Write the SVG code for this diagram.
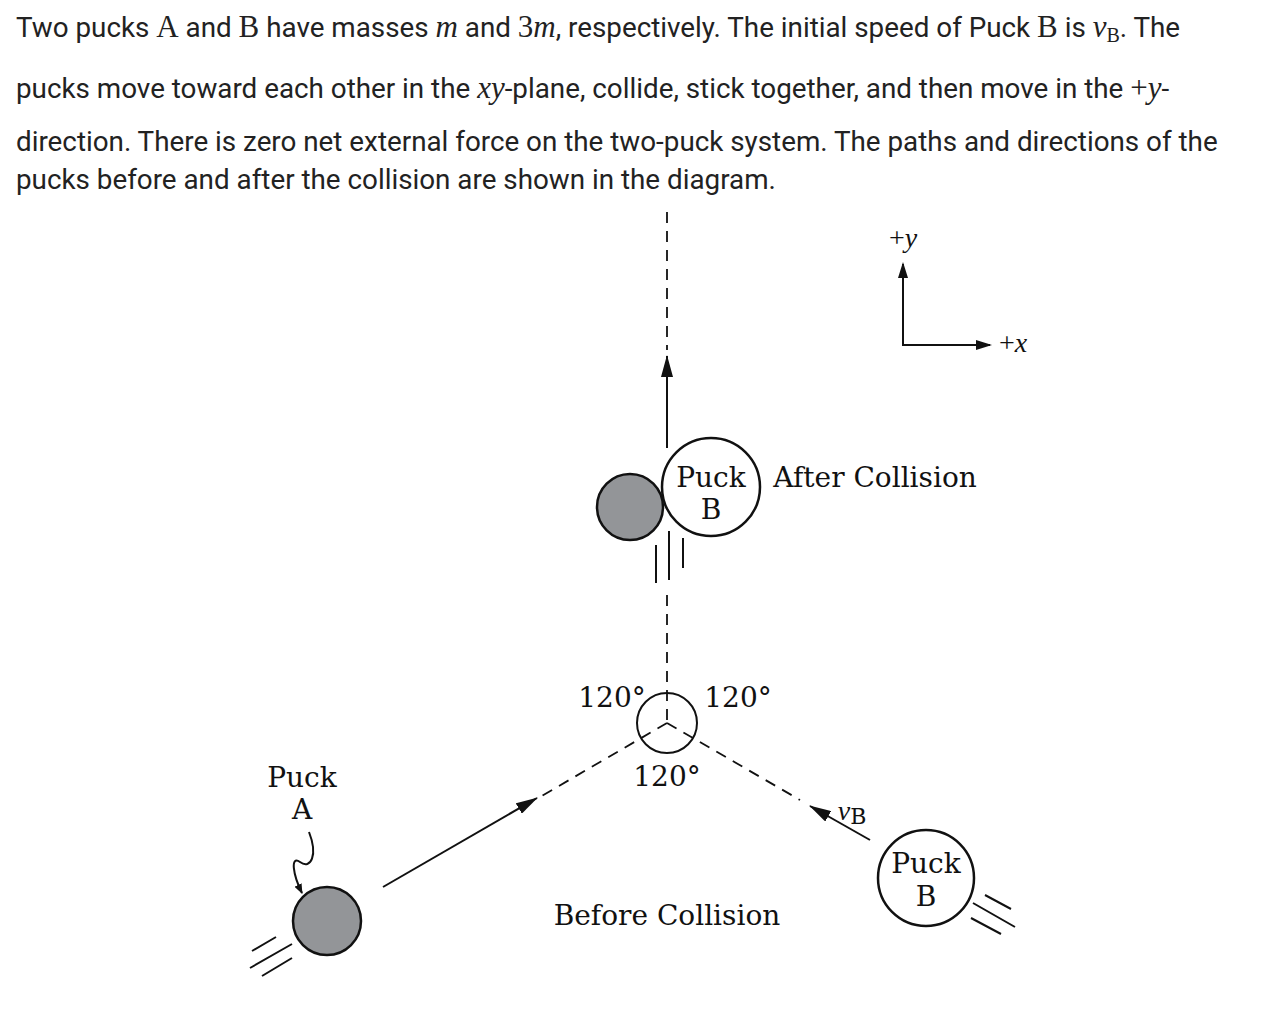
<svg xmlns="http://www.w3.org/2000/svg" width="1268" height="1012" viewBox="0 0 1268 1012">
<style>
.h{font-family:Roboto,"Liberation Sans",sans-serif;font-size:27.8px;fill:#222}
.m{font-family:"Liberation Serif",serif;font-style:italic}
.hm{font-size:31px}
.r{font-family:"Liberation Serif",serif;font-style:normal}
.t{font-family:"DejaVu Serif","Liberation Serif",serif;font-size:28px;fill:#111;text-anchor:middle}
.s{stroke:#111;stroke-width:2;fill:none}
.d{stroke:#111;stroke-width:1.8;fill:none;stroke-dasharray:11,8}
.g{fill:#939598;stroke:#111;stroke-width:2.5}
.w{fill:#fff;stroke:#111;stroke-width:2.5}
</style>
<defs><marker id="a" markerWidth="10" markerHeight="8" refX="9" refY="4" orient="auto" markerUnits="userSpaceOnUse" viewBox="0 0 10 8"><path d="M0,0L10,4L0,8z" fill="#111"/></marker>
<marker id="b" markerWidth="22" markerHeight="12" refX="21" refY="6" orient="auto" markerUnits="userSpaceOnUse"><path d="M0,0L22,6L0,12z" fill="#111"/></marker></defs>
<rect width="1268" height="1012" fill="#fff"/>
<g id="header">
<text class="h" x="16" y="37">Two pucks <tspan class="r hm">A</tspan> and <tspan class="r hm">B</tspan> have masses <tspan class="m hm">m</tspan> and <tspan class="r hm">3</tspan><tspan class="m hm">m</tspan>, respectively. The initial speed of Puck <tspan class="r hm">B</tspan> is <tspan class="m hm">v</tspan><tspan class="r" font-size="20" dy="5">B</tspan><tspan dy="-5">. The</tspan></text>
<text class="h" x="16" y="98">pucks move toward each other in the <tspan class="m hm">xy</tspan>-plane, collide, stick together, and then move in the <tspan class="r hm">+</tspan><tspan class="m hm">y</tspan>-</text>
<text class="h" x="16" y="151">direction. There is zero net external force on the two-puck system. The paths and directions of the</text>
<text class="h" x="16" y="189">pucks before and after the collision are shown in the diagram.</text>
</g>
<g id="connectors">
<line class="d" x1="667" y1="212" x2="667" y2="350"/>
<line class="s" x1="667" y1="448" x2="667" y2="356" marker-end="url(#b)"/>
<line class="d" x1="667" y1="595" x2="667" y2="723"/>
<line class="d" x1="667" y1="723" x2="540" y2="797"/>
<line class="s" x1="383" y1="887" x2="537" y2="798" marker-end="url(#b)"/>
<line class="d" x1="667" y1="723" x2="800" y2="800"/>
<line class="s" x1="870" y1="840" x2="810" y2="806" marker-end="url(#b)"/>
<circle class="s" cx="667" cy="723" r="30"/>
<path class="s" d="M656,545V583M669,531V580M683,538V568"/>
<path class="s" d="M252,951L276,937M250,968L292,944M262,976L292,958"/>
<path class="s" d="M985,895L1011,909M973,903L1015,927M971,918L1001,934"/>
<path class="s" d="M309,832C318,855 311,870 300,862C290,855 293,875 302,893" marker-end="url(#a)"/>
<path class="s" d="M903,264V345H990" />
<path d="M903,262l-5,16h10z M992,345l-16,-5v10z" fill="#111"/>
</g>
<g id="axes-labels">
<text class="t" x="903" y="247"><tspan class="r">+</tspan><tspan class="m">y</tspan></text>
<text class="t" x="1013" y="352"><tspan class="r">+</tspan><tspan class="m">x</tspan></text>
</g>
<g id="puckA-after"><circle class="g" cx="630" cy="507" r="33"/></g>
<g id="puckB-after"><circle class="w" cx="711" cy="487" r="49"/>
<text class="t" x="711" y="487">Puck</text><text class="t" x="711" y="519">B</text></g>
<text class="t" x="875" y="487">After Collision</text>
<g id="angles">
<text class="t" x="612" y="707">120°</text>
<text class="t" x="738" y="707">120°</text>
<text class="t" x="667" y="786">120°</text>
</g>
<g id="puckA"><text class="t" x="302" y="787">Puck</text><text class="t" x="302" y="819">A</text>
<circle class="g" cx="327" cy="921" r="34"/></g>
<g id="puckB"><circle class="w" cx="926" cy="878" r="48"/>
<text class="t" x="926" y="873">Puck</text><text class="t" x="926" y="906">B</text></g>
<text class="t" x="852" y="820"><tspan class="m">v</tspan><tspan font-size="22" dy="4">B</tspan></text>
<text class="t" x="667" y="925">Before Collision</text>
</svg>
